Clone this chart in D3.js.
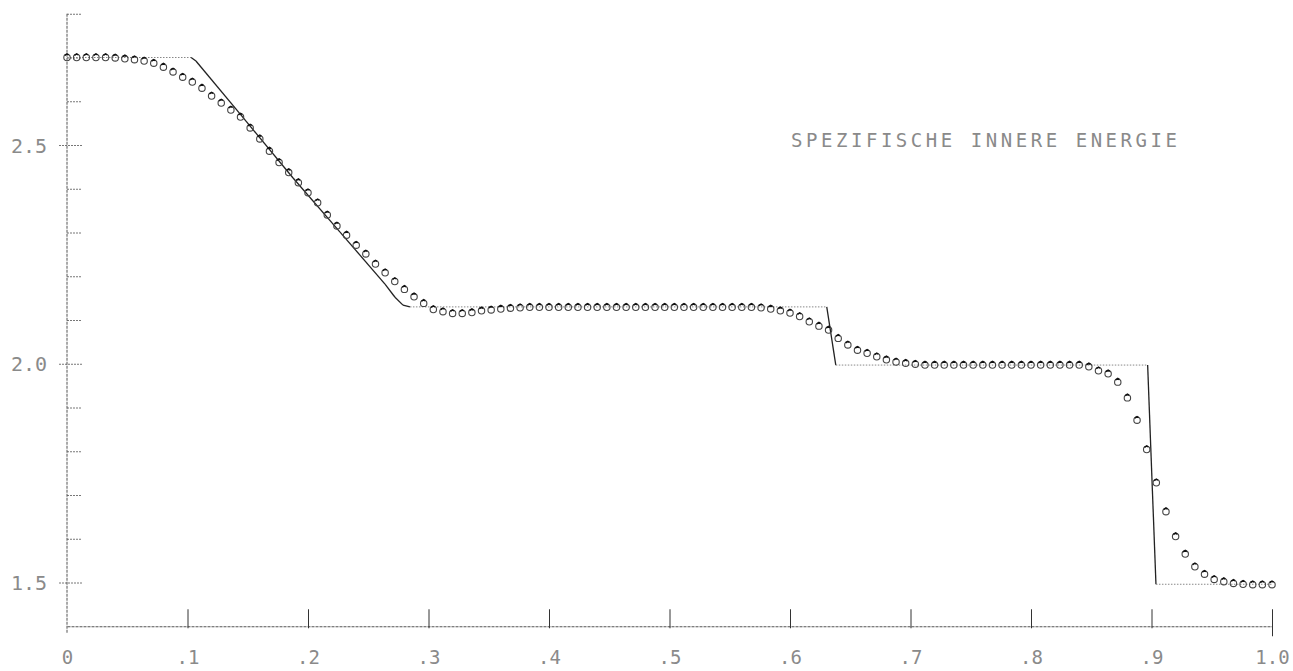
<!DOCTYPE html>
<html lang="de">
<head>
  <meta charset="UTF-8">
  <title>Spezifische innere Energie</title>
  <style>
    body { margin: 0; background: #fff; }
    text { font-family: "DejaVu Sans Mono", monospace; fill: #8a8a8a; }
  </style>
</head>
<body>
  <script src="https://d3js.org/d3.v7.min.js"></script>
  <script>
    // exact solution (corner points)
    const exactX = [0, 0.103, 0.107, 0.1436, 0.1876, 0.2266, 0.2639, 0.2722, 0.2788, 0.2846, 0.6305, 0.638, 0.8968, 0.9037, 1.0];
    const exactY = [2.70, 2.70, 2.692, 2.571, 2.4245, 2.301, 2.182, 2.152, 2.134, 2.13, 2.13, 1.997, 1.997, 1.496, 1.496];

    // numerical values, one per cell (dx = 0.008)
    const numY = [
      2.700, 2.700, 2.700, 2.700, 2.700, 2.699, 2.697, 2.695, 2.692, 2.687,
      2.678, 2.667, 2.655, 2.644, 2.630, 2.612, 2.596, 2.580, 2.564, 2.539,
      2.514, 2.486, 2.460, 2.437, 2.414, 2.391, 2.368, 2.340, 2.315, 2.294,
      2.271, 2.251, 2.228, 2.208, 2.188, 2.170, 2.153, 2.138, 2.124, 2.119,
      2.115, 2.115, 2.117, 2.121, 2.123, 2.125, 2.127, 2.128,
      2.129, 2.129, 2.129, 2.129, 2.129, 2.129, 2.129, 2.129, 2.129, 2.129, 2.129, 2.129,
      2.129, 2.129, 2.129, 2.129, 2.129, 2.129, 2.129, 2.129, 2.129, 2.129, 2.129, 2.129,
      2.128, 2.125, 2.121, 2.116, 2.108, 2.096, 2.086, 2.077, 2.058, 2.043,
      2.031, 2.024, 2.016, 2.009, 2.004, 2.001, 1.999,
      1.997, 1.997, 1.997, 1.997, 1.997, 1.997, 1.997, 1.997, 1.997, 1.997,
      1.997, 1.997, 1.997, 1.997, 1.997, 1.997, 1.997,
      1.993, 1.984, 1.977, 1.958, 1.922, 1.871, 1.804, 1.728, 1.662, 1.605,
      1.565, 1.536, 1.519, 1.507, 1.502, 1.498, 1.496, 1.495, 1.495, 1.495
    ];
    const dx = 0.008;

    const xTicks = [0, 0.1, 0.2, 0.3, 0.4, 0.5, 0.6, 0.7, 0.8, 0.9, 1.0];
    const xTickLabels = ["0", ".1", ".2", ".3", ".4", ".5", ".6", ".7", ".8", ".9", "1.0"];
    const yMajor = [1.5, 2.0, 2.5];
    const yMajorLabels = ["1.5", "2.0", "2.5"];
    const yMinor = [1.6, 1.7, 1.8, 1.9, 2.1, 2.2, 2.3, 2.4, 2.6, 2.7, 2.8];
    const title = "SPEZIFISCHE INNERE ENERGIE";

    const width = 1293;
    const height = 671;

    const svg = d3.select("body").append("svg").attr("width", width).attr("height", height);

    const x = d3.scaleLinear().domain([0, 1]).range([67, 1272]);
    const y = d3.scaleLinear().domain([1.4, 2.8]).range([626.25, 13.75]);

    const axisColor = "#555";

    // x axis
    const gx = svg.append("g")
      .attr("transform", "translate(0," + y(1.4) + ")")
      .call(d3.axisBottom(x)
        .tickValues(xTicks)
        .tickFormat(function(d, i) { return xTickLabels[i]; })
        .tickSizeInner(-17)
        .tickSizeOuter(0)
        .tickPadding(24));
    gx.select(".domain").attr("stroke", axisColor).attr("stroke-dasharray", "3,1");
    gx.selectAll(".tick line").attr("stroke", "#333").attr("y2", -17).attr("y1", 2);
    gx.selectAll(".tick").filter(function(d) { return d === 0; }).select("line").remove();
    gx.selectAll(".tick").filter(function(d) { return d === 1; }).select("line").attr("y1", 10);
    gx.selectAll(".tick text").attr("font-size", 19).attr("fill", "#8a8a8a").attr("font-family", "DejaVu Sans Mono");

    // y axis: minor ticks
    const gyMinor = svg.append("g")
      .attr("transform", "translate(" + x(0) + ",0)")
      .call(d3.axisLeft(y).tickValues(yMinor).tickFormat("").tickSizeInner(-15).tickSizeOuter(0));
    gyMinor.select(".domain").remove();
    gyMinor.selectAll(".tick line").attr("stroke", "#777").attr("stroke-dasharray", "2,1");

    // y axis: major ticks with labels
    const gy = svg.append("g")
      .attr("transform", "translate(" + x(0) + ",0)")
      .call(d3.axisLeft(y)
        .tickValues(yMajor)
        .tickFormat(function(d, i) { return yMajorLabels[i]; })
        .tickSizeInner(9)
        .tickSizeOuter(0)
        .tickPadding(11));
    gy.select(".domain").remove();
    gy.selectAll(".tick line").attr("x1", 15).attr("stroke", "#777").attr("stroke-dasharray", "2,1");
    gy.selectAll(".tick text").attr("font-size", 20).attr("fill", "#8a8a8a").attr("font-family", "DejaVu Sans Mono").attr("dy", "0.36em");

    svg.append("line")
      .attr("x1", x(0)).attr("x2", x(0))
      .attr("y1", y(2.8)).attr("y2", y(1.4) + 7)
      .attr("stroke", axisColor)
      .attr("stroke-dasharray", "3,1");

    // exact solution: constant states dotted, waves solid
    const exact = exactX.map(function(d, i) { return [d, exactY[i]]; });
    const segs = d3.pairs(exact);
    svg.selectAll("line.exact")
      .data(segs)
      .enter()
      .append("line")
      .attr("class", "exact")
      .attr("x1", function(d) { return x(d[0][0]); })
      .attr("y1", function(d) { return y(d[0][1]); })
      .attr("x2", function(d) { return x(d[1][0]); })
      .attr("y2", function(d) { return y(d[1][1]); })
      .attr("stroke", function(d) { return d[0][1] === d[1][1] ? "#888" : "#222"; })
      .attr("stroke-width", function(d) { return d[0][1] === d[1][1] ? 1 : 1.3; })
      .attr("stroke-dasharray", function(d) { return d[0][1] === d[1][1] ? "1.5,1.5" : null; });

    // numerical markers
    svg.selectAll("circle")
      .data(numY)
      .enter()
      .append("circle")
      .attr("cx", function(d, i) { return x(i * dx); })
      .attr("cy", function(d) { return y(d); })
      .attr("r", 3.2)
      .attr("fill", "none")
      .attr("stroke", "#444")
      .attr("stroke-width", 1.1);

    svg.selectAll("path.pen")
      .data(numY)
      .enter()
      .append("path")
      .attr("class", "pen")
      .attr("d", function(d, i) {
        const cx = x(i * dx), cy = y(d);
        return "M" + (cx - 2.2) + "," + (cy - 2.2) + "L" + cx + "," + (cy - 3.6) + "L" + (cx + 1.6) + "," + (cy - 2.6);
      })
      .attr("fill", "none")
      .attr("stroke", "#111")
      .attr("stroke-width", 1.6);

    // title
    svg.append("text")
      .attr("x", 791)
      .attr("y", 147)
      .attr("font-size", 19)
      .attr("textLength", 386)
      .attr("lengthAdjust", "spacing")
      .text(title);
  </script>
</body>
</html>
